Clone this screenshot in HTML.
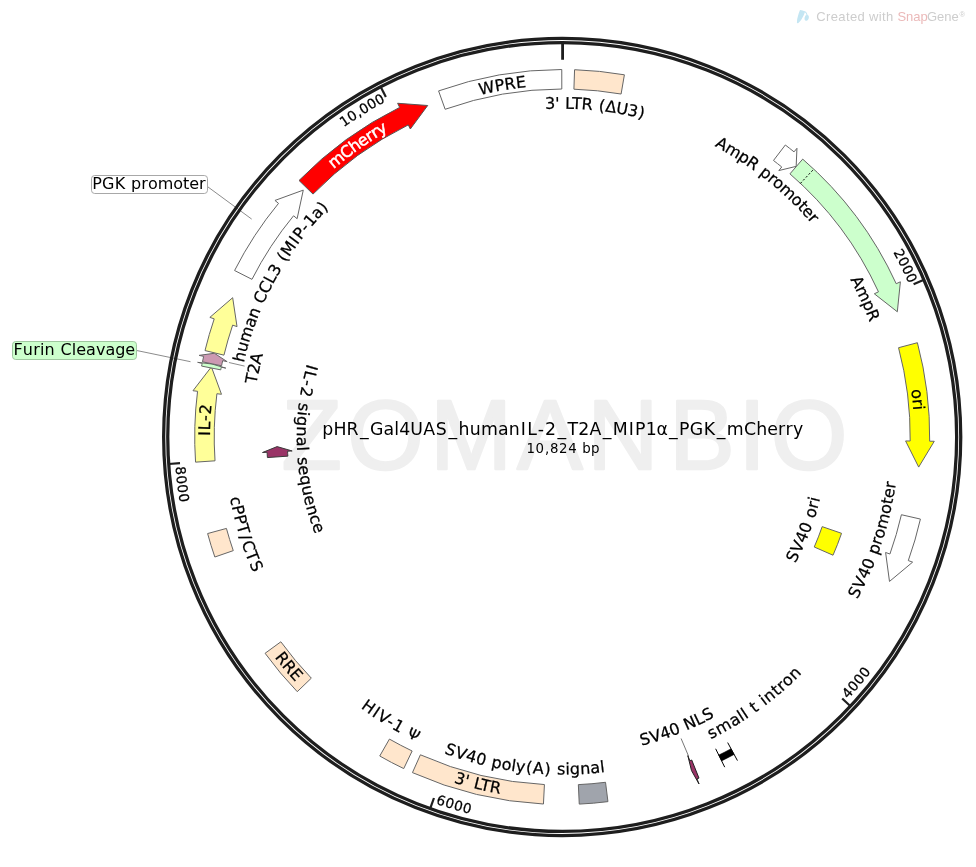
<!DOCTYPE html>
<html><head><meta charset="utf-8"><title>pHR_Gal4UAS_humanIL-2_T2A_MIP1α_PGK_mCherry</title>
<style>html,body{margin:0;padding:0;background:#fff;}svg{display:block}</style></head>
<body>
<svg width="976" height="867" viewBox="0 0 976 867">
<rect width="976" height="867" fill="#fff"/>
<text transform="scale(1.0,1)" x="311.80 385.50 471.10 550.00 623.00 702.00 752.00 809.00" y="469.3" font-family="'Liberation Sans', sans-serif" font-size="98.0" fill="#efefef" stroke="#efefef" stroke-width="2.6" stroke-linejoin="round" text-anchor="middle">ZOMANBIO</text>
<line x1="207.5" y1="186.6" x2="251.7" y2="219.1" stroke="#8c8c8c" stroke-width="1"/>
<line x1="136.7" y1="350.5" x2="190.5" y2="361.7" stroke="#8c8c8c" stroke-width="1"/>
<circle cx="562.2" cy="437.0" r="398.55" fill="none" stroke="#1e1e1e" stroke-width="3.25"/>
<circle cx="562.2" cy="437.0" r="394.45" fill="none" stroke="#1e1e1e" stroke-width="3.25"/>
<line x1="562.61" y1="42.55" x2="562.60" y2="59.70" stroke="#1e1e1e" stroke-width="2.8" />
<line x1="923.99" y1="279.83" x2="913.58" y2="284.35" stroke="#1e1e1e" stroke-width="2.2" />
<line x1="850.51" y1="706.20" x2="842.21" y2="698.46" stroke="#1e1e1e" stroke-width="2.2" />
<line x1="430.16" y1="808.69" x2="433.96" y2="798.00" stroke="#1e1e1e" stroke-width="2.2" />
<line x1="168.67" y1="464.00" x2="180.00" y2="463.22" stroke="#1e1e1e" stroke-width="2.2" />
<line x1="380.64" y1="86.82" x2="385.86" y2="96.90" stroke="#1e1e1e" stroke-width="2.2" />
<path d="M445.14,109.28 L438.58,90.92 A367.50,367.50 0 0 1 561.77,69.50 L561.80,89.00 A348.00,348.00 0 0 0 445.14,109.28 Z" fill="#ffffff" stroke="#666666" stroke-width="1" stroke-linejoin="miter"/>
<path d="M573.91,89.20 L574.57,69.71 A367.50,367.50 0 0 1 624.40,74.80 L621.10,94.02 A348.00,348.00 0 0 0 573.91,89.20 Z" fill="#ffe6cc" stroke="#666666" stroke-width="1" stroke-linejoin="miter"/>
<path d="M773.49,160.48 L785.33,144.99 A367.50,367.50 0 0 1 794.04,151.86 L796.94,148.29 L796.16,166.36 L778.83,170.56 L781.74,166.99 A348.00,348.00 0 0 0 773.49,160.48 Z" fill="#ffffff" stroke="#666666" stroke-width="1" stroke-linejoin="miter"/>
<path d="M789.94,173.87 L802.70,159.12 A367.50,367.50 0 0 1 896.21,283.71 L900.39,281.80 L897.32,311.78 L874.30,293.77 L878.48,291.85 A348.00,348.00 0 0 0 789.94,173.87 Z" fill="#ccffcc" stroke="#666666" stroke-width="1" stroke-linejoin="miter"/>
<line x1="800.44" y1="183.34" x2="813.79" y2="169.12" stroke="#000" stroke-width="1" stroke-dasharray="2,2"/>
<path d="M898.55,347.71 L917.40,342.71 A367.50,367.50 0 0 1 929.68,441.22 L934.28,441.28 L918.68,467.08 L905.58,440.95 L910.18,441.00 A348.00,348.00 0 0 0 898.55,347.71 Z" fill="#ffff00" stroke="#666666" stroke-width="1" stroke-linejoin="miter"/>
<path d="M901.41,514.72 L920.42,519.07 A367.50,367.50 0 0 1 908.30,560.58 L912.63,562.13 L889.49,581.45 L885.60,552.47 L889.93,554.02 A348.00,348.00 0 0 0 901.41,514.72 Z" fill="#ffffff" stroke="#666666" stroke-width="1" stroke-linejoin="miter"/>
<path d="M822.18,526.64 L841.56,533.32 A295.50,295.50 0 0 1 833.02,555.21 L814.24,547.01 A275.00,275.00 0 0 0 822.18,526.64 Z" fill="#ffff00" stroke="#666666" stroke-width="1" stroke-linejoin="miter"/>
<path d="M731.01,748.73 L734.10,754.44 A361.00,361.00 0 0 1 721.63,760.89 L718.76,755.06 A354.50,354.50 0 0 0 731.01,748.73 Z" fill="#000" stroke="#000" stroke-width="0.5" stroke-linejoin="miter"/>
<line x1="727.68" y1="742.57" x2="737.44" y2="760.60" stroke="#000" stroke-width="1" />
<line x1="715.67" y1="748.77" x2="724.72" y2="767.17" stroke="#000" stroke-width="1" />
<path d="M691.73,760.00 L698.98,778.10 A367.50,367.50 0 0 1 697.00,778.88 L699.02,784.00 L691.49,770.57 L687.83,755.63 L689.85,760.74 A348.00,348.00 0 0 0 691.73,760.00 Z" fill="#993366" stroke="#222" stroke-width="1" stroke-linejoin="miter"/>
<path d="M605.52,782.29 L607.95,801.64 A367.50,367.50 0 0 1 579.26,804.10 L578.35,784.62 A348.00,348.00 0 0 0 605.52,782.29 Z" fill="#a0a4ac" stroke="#666666" stroke-width="1" stroke-linejoin="miter"/>
<path d="M544.43,784.55 L543.44,804.02 A367.50,367.50 0 0 1 412.45,772.61 L420.40,754.80 A348.00,348.00 0 0 0 544.43,784.55 Z" fill="#ffe6cc" stroke="#666666" stroke-width="1" stroke-linejoin="miter"/>
<path d="M412.15,750.99 L403.74,768.58 A367.50,367.50 0 0 1 379.74,756.01 L389.43,739.08 A348.00,348.00 0 0 0 412.15,750.99 Z" fill="#ffe6cc" stroke="#666666" stroke-width="1" stroke-linejoin="miter"/>
<path d="M311.32,678.17 L297.26,691.68 A367.50,367.50 0 0 1 265.09,653.29 L280.85,641.81 A348.00,348.00 0 0 0 311.32,678.17 Z" fill="#ffe6cc" stroke="#666666" stroke-width="1" stroke-linejoin="miter"/>
<path d="M233.27,550.63 L214.84,557.00 A367.50,367.50 0 0 1 207.61,533.56 L226.43,528.43 A348.00,348.00 0 0 0 233.27,550.63 Z" fill="#ffe6cc" stroke="#666666" stroke-width="1" stroke-linejoin="miter"/>
<path d="M215.02,460.82 L195.56,462.15 A367.50,367.50 0 0 1 197.55,391.30 L192.99,390.72 L211.40,366.85 L221.47,394.29 L216.90,393.72 A348.00,348.00 0 0 0 215.02,460.82 Z" fill="#ffff99" stroke="#666666" stroke-width="1" stroke-linejoin="miter"/>
<path d="M287.87,456.14 L267.42,457.57 A295.50,295.50 0 0 1 267.09,452.26 L262.50,452.50 L277.11,446.60 L292.16,450.96 L287.57,451.20 A275.00,275.00 0 0 0 287.87,456.14 Z" fill="#993366" stroke="#3a3a3a" stroke-width="1" stroke-linejoin="miter"/>
<path d="M220.74,369.85 L201.61,366.09 A367.50,367.50 0 0 1 202.17,363.27 L197.67,362.35 L211.98,364.00 L225.78,368.10 L221.28,367.18 A348.00,348.00 0 0 0 220.74,369.85 Z" fill="#ccffcc" stroke="#666666" stroke-width="1" stroke-linejoin="miter"/>
<path d="M221.56,365.79 L202.48,361.80 A367.50,367.50 0 0 1 203.65,356.38 L199.16,355.37 L214.39,353.26 L227.16,361.67 L222.68,360.66 A348.00,348.00 0 0 0 221.56,365.79 Z" fill="#cc99b2" stroke="#666666" stroke-width="1" stroke-linejoin="miter"/>
<path d="M223.96,355.15 L205.01,350.57 A367.50,367.50 0 0 1 214.21,318.86 L209.85,317.38 L232.68,297.70 L237.03,326.61 L232.67,325.13 A348.00,348.00 0 0 0 223.96,355.15 Z" fill="#ffff99" stroke="#666666" stroke-width="1" stroke-linejoin="miter"/>
<path d="M251.96,279.34 L234.58,270.50 A367.50,367.50 0 0 1 278.52,203.38 L274.96,200.45 L303.28,190.12 L297.12,218.70 L293.57,215.77 A348.00,348.00 0 0 0 251.96,279.34 Z" fill="#ffffff" stroke="#666666" stroke-width="1" stroke-linejoin="miter"/>
<path d="M313.00,194.09 L299.04,180.48 A367.50,367.50 0 0 1 399.67,107.39 L397.63,103.27 L427.70,105.50 L410.33,129.01 L408.29,124.88 A348.00,348.00 0 0 0 313.00,194.09 Z" fill="#ff0000" stroke="#555" stroke-width="1" stroke-linejoin="miter"/>
<g font-family="'DejaVu Sans', 'Liberation Sans', sans-serif"><path id="p1" d="M479.91,95.06 A351.70,351.70 0 0 1 648.42,96.03" fill="none"/>
<text font-size="16" fill="#000" stroke="#000" stroke-width="0.25"><textPath href="#p1"><tspan dx="0.121 0.193 0.157 0.162">WPRE</tspan></textPath></text>
<path id="p2" d="M545.39,109.13 A328.30,328.30 0 0 1 749.26,167.20" fill="none"/>
<text font-size="16" fill="#000" stroke="#000" stroke-width="0.25"><textPath href="#p2"><tspan dx="-0.088 -0.172 0.141 0.148 -0.119 -0.136 0.132 0.674 0.355 -0.193 -0.187 0.361">3' LTR (ΔU3)</tspan></textPath></text>
<path id="p3" d="M714.64,146.24 A328.30,328.30 0 0 1 869.86,322.42" fill="none"/>
<text font-size="16" fill="#000" stroke="#000" stroke-width="0.25"><textPath href="#p3"><tspan dx="-0.094 -0.235 -0.320 -0.272 0.132 0.046 -0.110 -0.052 -0.262 -0.262 -0.159 -0.273 -0.166">AmpR promoter</tspan></textPath></text>
<path id="p4" d="M850.35,279.68 A328.30,328.30 0 0 1 890.49,434.32" fill="none"/>
<text font-size="16" fill="#000" stroke="#000" stroke-width="0.25"><textPath href="#p4"><tspan dx="-0.094 -0.235 -0.320 -0.272">AmpR</tspan></textPath></text>
<path id="p5" d="M911.25,389.97 A352.20,352.20 0 0 1 901.30,532.15" fill="none"/>
<text font-size="16" fill="#000" stroke="#000" stroke-width="0.25"><textPath href="#p5"><tspan dx="-0.121 -0.052 0.001">ori</tspan></textPath></text>
<path id="p6" d="M856.92,599.81 A336.70,336.70 0 0 0 891.15,365.17" fill="none"/>
<text font-size="16" fill="#000" stroke="#000" stroke-width="0.25"><textPath href="#p6"><tspan dx="0.503 0.612 0.209 0.200 0.429 0.335 0.201 0.254 0.205 0.205 0.137 0.020 0.137">SV40 promoter</tspan></textPath></text>
<path id="p7" d="M795.08,563.87 A265.20,265.20 0 0 0 825.65,406.61" fill="none"/>
<text font-size="16" fill="#000" stroke="#000" stroke-width="0.25"><textPath href="#p7"><tspan dx="0.503 0.612 0.209 0.200 0.429 0.388 0.254 0.208">SV40 ori</tspan></textPath></text>
<path id="p8" d="M710.64,739.21 A336.70,336.70 0 0 0 868.64,576.51" fill="none"/>
<text font-size="16" fill="#000" stroke="#000" stroke-width="0.25"><textPath href="#p8"><tspan dx="0.250 0.708 0.652 0.295 0.202 0.543 0.646 0.646 0.543 0.398 0.502 0.536 0.585 0.550">small t intron</tspan></textPath></text>
<path id="p9" d="M641.11,745.78 A318.70,318.70 0 0 0 801.50,647.49" fill="none"/>
<text font-size="16" fill="#000" stroke="#000" stroke-width="0.25"><textPath href="#p9"><tspan dx="0.394 0.393 -0.003 -0.004 0.271 0.273 -0.001 0.393">SV40 NLS</tspan></textPath></text>
<path id="p10" d="M443.50,753.04 A337.60,337.60 0 0 0 716.86,737.09" fill="none"/>
<text font-size="16" fill="#000" stroke="#000" stroke-width="0.25"><textPath href="#p10"><tspan dx="0.558 0.722 0.314 0.302 0.508 0.413 0.163 0.142 0.179 0.764 0.783 0.783 0.977 0.483 0.160 0.091 0.201 0.195 0.085">SV40 poly(A) signal</tspan></textPath></text>
<path id="p11" d="M453.56,782.52 A362.20,362.20 0 0 0 627.92,793.19" fill="none"/>
<text font-size="16" fill="#000" stroke="#000" stroke-width="0.25"><textPath href="#p11"><tspan dx="-0.002 -0.049 0.226 0.272 0.040 0.043">3' LTR</tspan></textPath></text>
<path id="p12" d="M360.29,707.57 A337.60,337.60 0 0 0 531.20,773.17" fill="none"/>
<text font-size="16" fill="#000" stroke="#000" stroke-width="0.25"><textPath href="#p12"><tspan dx="0.173 1.282 1.273 1.018 1.005 0.508 1.165">HIV-1 <tspan font-size="14.72">Ψ</tspan></tspan></textPath></text>
<path id="p13" d="M274.62,657.20 A362.20,362.20 0 0 0 395.28,758.45" fill="none"/>
<text font-size="16" fill="#000" stroke="#000" stroke-width="0.25"><textPath href="#p13"><tspan dx="0.001 0.003 0.003">RRE</tspan></textPath></text>
<path id="p14" d="M230.14,497.91 A337.60,337.60 0 0 0 318.56,670.69" fill="none"/>
<text font-size="16" fill="#000" stroke="#000" stroke-width="0.25"><textPath href="#p14"><tspan dx="-0.105 0.039 0.289 0.334 1.235 1.211 0.355 0.747">cPPT/CTS</tspan></textPath></text>
<path id="p15" d="M307.39,362.78 A265.40,265.40 0 0 0 363.55,613.00" fill="none"/>
<text font-size="16" fill="#000" stroke="#000" stroke-width="0.25"><textPath href="#p15"><tspan dx="1.177 1.399 1.149 1.179 0.666 0.622 0.287 0.234 0.402 0.393 0.225 0.493 0.622 0.293 0.240 0.402 0.331 0.331 0.225 0.062">IL-2 signal sequence</tspan></textPath></text>
<path id="p16" d="M210.00,436.97 A352.20,352.20 0 0 1 243.77,286.51" fill="none"/>
<text font-size="16" fill="#000" stroke="#000" stroke-width="0.25"><textPath href="#p16"><tspan dx="0.951 0.875 0.607 0.595">IL-2</tspan></textPath></text>
<path id="p17" d="M256.42,384.24 A310.30,310.30 0 0 1 309.30,257.20" fill="none"/>
<text font-size="16" fill="#000" stroke="#000" stroke-width="0.25"><textPath href="#p17"><tspan dx="-0.043 -0.131 -0.182">T2A</tspan></textPath></text>
<path id="p18" d="M243.72,362.85 A327.00,327.00 0 0 1 421.91,141.62" fill="none"/>
<text font-size="16" fill="#000" stroke="#000" stroke-width="0.25"><textPath href="#p18"><tspan dx="-0.006 -0.013 -0.015 -0.103 -0.101 0.267 0.271 -0.004 -0.003 -0.003 0.271 0.784 0.352 0.850 1.008 0.745 0.743 -0.096 0.416">human CCL3 (MIP-1a)</tspan></textPath></text>
<path id="p19" d="M333.79,168.90 A352.20,352.20 0 0 1 503.64,89.70" fill="none"/>
<text font-size="16" fill="#fff" stroke="#fff" stroke-width="0.5"><textPath href="#p19"><tspan dx="-0.320 -0.546 -0.434 -0.554 -0.354 -0.020 -0.198">mCherry</tspan></textPath></text>
<path id="p20" d="M893.15,252.30 A379.00,379.00 0 0 1 940.35,411.68" fill="none"/>
<text font-size="13.6" fill="#000" stroke="#000" stroke-width="0.25"><textPath href="#p20"><tspan dx="0.085 0.170 0.170 0.170">2000</tspan></textPath></text>
<path id="p21" d="M343.80,127.26 A379.00,379.00 0 0 1 511.05,61.47" fill="none"/>
<text font-size="13.6" fill="#000" stroke="#000" stroke-width="0.25"><textPath href="#p21"><tspan dx="0.085 0.170 0.448 0.448 0.170 0.170">10,000</tspan></textPath></text>
<path id="p22" d="M847.79,699.50 A387.90,387.90 0 0 0 932.81,551.52" fill="none"/>
<text font-size="13.6" fill="#000" stroke="#000" stroke-width="0.25"><textPath href="#p22"><tspan dx="0.258 0.516 0.516 0.516">4000</tspan></textPath></text>
<path id="p23" d="M435.23,803.53 A387.90,387.90 0 0 0 604.84,822.55" fill="none"/>
<text font-size="13.6" fill="#000" stroke="#000" stroke-width="0.25"><textPath href="#p23"><tspan dx="0.258 0.516 0.516 0.516">6000</tspan></textPath></text>
<path id="p24" d="M175.43,466.59 A387.90,387.90 0 0 0 225.57,629.73" fill="none"/>
<text font-size="13.6" fill="#000" stroke="#000" stroke-width="0.25"><textPath href="#p24"><tspan dx="0.258 0.516 0.516 0.516">8000</tspan></textPath></text>
<text x="322.29 333.38 346.62 360.04 370.09 383.62 394.23 399.15 410.37 423.27 435.75 448.55 458.57 469.73 480.93 497.94 508.63 520.85 527.20 537.81 545.03 557.42 567.49 578.30 589.52 602.75 612.64 628.70 635.05 645.68 656.58 669.05 679.08 689.73 703.70 716.77 726.84 743.95 756.24 767.23 778.01 785.54 792.96" y="435.40" font-size="17.33" fill="#000" >pHR_Gal4UAS_humanIL-2_T2A_MIP1α_PGK_mCherry</text>
<text x="526.51 535.61 544.89 549.93 559.03 568.13 577.33 582.19 591.11" y="452.90" font-size="13.33" fill="#000" >10,824 bp</text>
<rect x="91.5" y="175.5" width="116.00" height="18.00" rx="3.2" ry="3.2" fill="#ffffff" stroke="#a8a8a8" stroke-width="1"/>
<text x="92.22 101.90 114.64 125.73 131.02 141.23 147.93 157.71 173.29 183.08 189.24 199.08" y="188.60" font-size="16" fill="#000" >PGK promoter</text>
<rect x="12.5" y="341.5" width="124.00" height="18.00" rx="3.2" ry="3.2" fill="#ccffcc" stroke="#9fc79f" stroke-width="1"/>
<text x="13.38 22.76 33.17 39.95 44.49 55.04 60.56 71.84 76.23 86.00 95.89 105.44 115.23 125.32" y="354.60" font-size="16" fill="#000" >Furin Cleavage</text>
<line x1="228.90" y1="362.50" x2="244.60" y2="366.10" stroke="#8c8c8c" stroke-width="1" />
<line x1="681.10" y1="738.50" x2="688.50" y2="756.00" stroke="#777" stroke-width="1" />
<path d="M800.0,10.0 Q802.6,9.9 805.1,11.6 Q804.3,15.0 801.6,19.2 Q799.8,21.8 798.4,23.0 Q797.2,23.6 796.9,22.6 Q796.8,19.5 798.1,15.6 Q799.0,12.3 800.0,10.0 Z" fill="#c4e6f3"/>
<path d="M804.6,11.4 Q806.6,12.6 807.3,15.6" fill="none" stroke="#c4e6f3" stroke-width="1.1"/>
<ellipse cx="806.7" cy="17.9" rx="2.1" ry="2.9" fill="#c4e6f3" transform="rotate(12 806.7 17.9)"/>
<text y="21.0" font-family="'Liberation Sans', sans-serif" font-size="13" fill="#cdcdcd"><tspan x="816.3" letter-spacing="0.36">Created with </tspan><tspan x="897.4" fill="#ebb9b9">Snap</tspan><tspan x="927.0">Gene</tspan><tspan x="959.6" dy="-4.2" font-size="7.6">®</tspan></text></g>
</svg>
</body></html>
